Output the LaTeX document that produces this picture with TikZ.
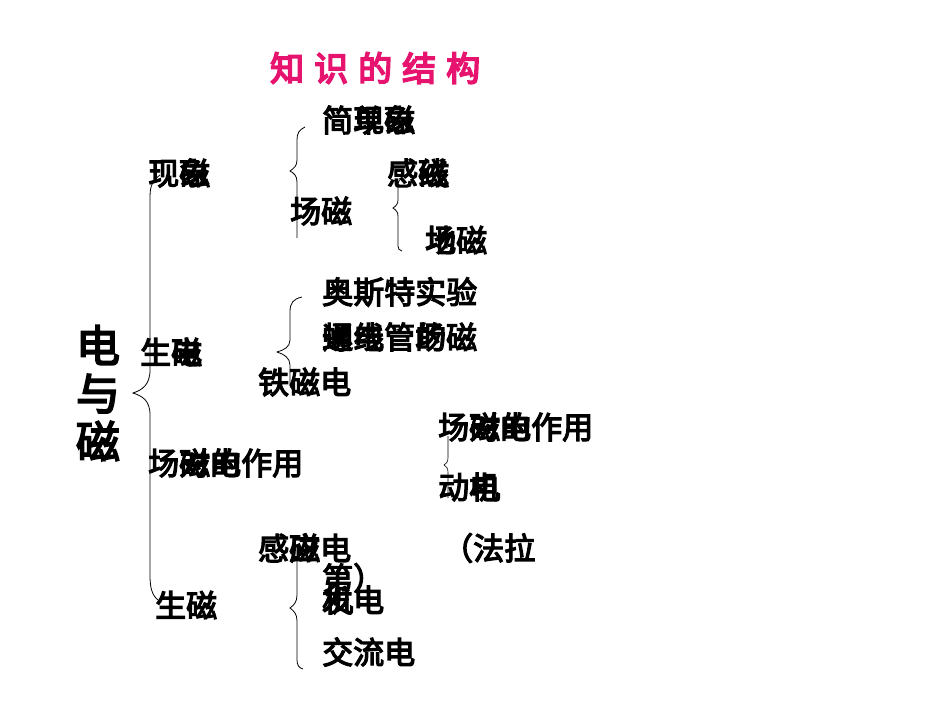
\documentclass[tikz,border=0pt]{standalone}
\usepackage{fontspec}
\newfontfamily\cjk{Noto Sans CJK SC}[FakeBold=4]
\newfontfamily\cjkt{Noto Sans CJK SC}[FakeBold=5]
\definecolor{titlepink}{RGB}{230,20,110}
\tikzset{
  t/.style={anchor=west,inner sep=0pt,font=\cjk\fontsize{31}{31}\selectfont},
  brace/.style={draw,line width=0.8pt}
}
\begin{document}
\begin{tikzpicture}[x=1pt,y=-1pt]
\useasboundingbox (0,0) rectangle (950,713);
\node[anchor=west,inner sep=0pt,text=titlepink,font=\cjkt\fontsize{34}{34}\selectfont] (title) at (270,68) {知\hspace{10pt}识\hspace{10pt}的\hspace{10pt}结\hspace{10pt}构};
% big label
\node[inner sep=0pt,font=\cjk\fontsize{44}{48}\selectfont,align=center] (main) at (98,393) {电\\与\\磁};
% level 1
\node[t] (a1) at (148,173) {现象};
\node[t] (a1b) at (179,173) {磁};
\node[t] (b1) at (140,352) {生磁};
\node[t] (b1b) at (171,352) {电};
\node[t] (c1) at (148,463) {场磁电作用};
\node[t] (c1b) at (179,463) {对的};
\node[t] (d1) at (155,605) {生磁};
% group a
\node[t] (a2) at (322,120) {简单磁};
\node[t] (a2b) at (353,120) {现象};
\node[t] (a3) at (290,211) {场磁};
\node[t] (a4) at (387,173) {感线};
\node[t] (a4b) at (418,173) {磁};
\node[t] (a5) at (425,240) {地磁};
\node[t] (a5b) at (425,240) {场};
% group b
\node[t] (b2) at (322,292) {奥斯特实验};
\node[t] (b3) at (322,337) {螺线管的磁};
\node[t] (b3b) at (322,337) {通电};
\node[t] (b3c) at (415,337) {场};
\node[t] (b4) at (258,382) {铁磁电};
% group c
\node[t] (c2) at (438,427) {场磁电作用};
\node[t] (c2b) at (469,427) {对的};
\node[t] (c3) at (438,487) {动机};
\node[t] (c3b) at (469,487) {电};
% group d
\node[t] (d2) at (258,548) {感磁电};
\node[t] (d2b) at (289,548) {应};
\node[t] (d3) at (442,548) {（法拉};
\node[t] (d4) at (322,578) {第）};
\node[t] (d5) at (322,600) {发电};
\node[t] (d5b) at (322,600) {机};
\node[t] (d6) at (322,652) {交流电};
% braces
\draw[brace] (160,175) .. controls (150,182) and (150,190) .. (150,200) -- (150,370) .. controls (150,385) and (142,390) .. (133,393) .. controls (142,396) and (150,400) .. (150,415) -- (150,575) .. controls (150,588) and (152,595) .. (158,600);
\draw[brace] (305,127) .. controls (299,130) and (297,133) .. (297,140) -- (297,160) .. controls (297,166) and (294,168) .. (290,171) .. controls (294,173) and (297,176) .. (297,182) -- (297,238);
\draw[brace] (402,178) .. controls (399,180) and (398,182) .. (398,186) -- (398,200) .. controls (398,204) and (396,206) .. (393,208) .. controls (396,210) and (398,212) .. (398,216) -- (398,246) .. controls (398,249) and (399,250) .. (402,251);
\draw[brace] (302,297) .. controls (293,299) and (290,303) .. (290,312) -- (290,340) .. controls (290,347) and (284,350) .. (277,352) .. controls (284,354) and (290,358) .. (290,365) -- (290,382) .. controls (290,390) and (294,393) .. (302,394);
\draw[brace,line width=0.6pt] (448,436) -- (448,458) .. controls (448,462) and (446,464) .. (444,465) .. controls (446,466) and (448,468) .. (448,472) -- (448,498);
\draw[brace] (297,548) -- (297,595) .. controls (297,602) and (294,605) .. (290,608) .. controls (294,611) and (297,614) .. (297,621) -- (297,660) .. controls (297,665) and (299,668) .. (303,669);
\end{tikzpicture}
\end{document}
